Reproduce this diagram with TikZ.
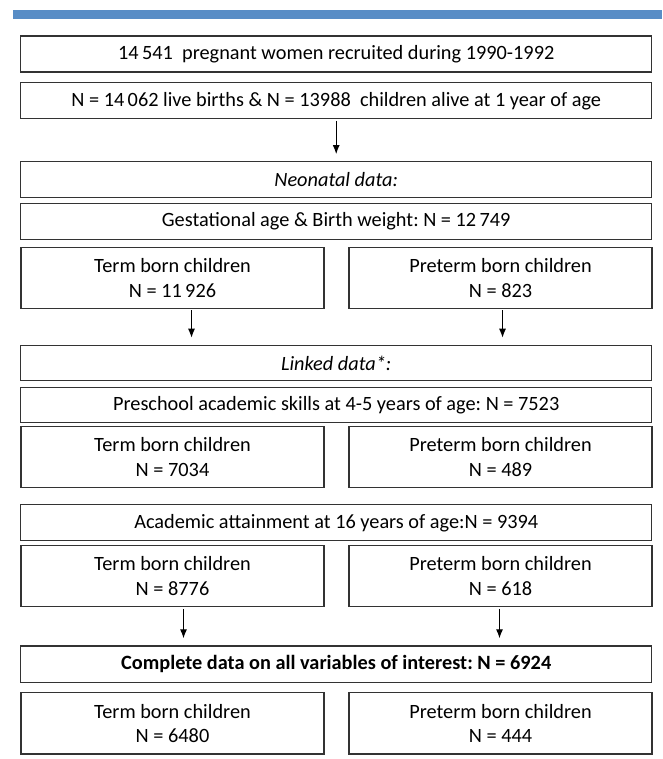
\documentclass[tikz,border=0pt]{standalone}
\usepackage{fontspec}
\setmainfont{Carlito}
\frenchspacing
\usetikzlibrary{arrows.meta}
\definecolor{barblue}{RGB}{88,141,198}
\begin{document}
\begin{tikzpicture}[x=1pt, y=-1pt,
    box/.style={draw=black!80, line width=1.2pt, inner sep=0pt, align=center,
      font=\fontsize{20.3}{24.5}\selectfont},
    wide/.style={box, minimum width=631pt, minimum height=36pt},
    half/.style={box, minimum width=303pt, minimum height=61pt},
    arr/.style={-{Latex[length=9pt,width=7pt]}, line width=1.1pt, shorten <=1.5pt, shorten >=7pt}]
  \useasboundingbox (0,0) rectangle (662,759);
  % top bar
  \fill[barblue] (13,10) rectangle (662,18.7);
  % recruitment
  \node[wide] (preg) at (336.2,54) {14\,541~ pregnant women recruited during 1990-1992};
  \node[wide] (births) at (336.2,100.7) {N = 14\,062 live births \& N = 13988~ children alive at 1 year of age};
  % neonatal data
  \node[wide] (neo) at (336.2,179.7) {\itshape Neonatal data:};
  \node[wide] (gest) at (336.2,221.3) {Gestational age \& Birth weight: N = 12\,749};
  \node[half] (terma) at (172.5,277.8) {Term born children\\N = 11\,926};
  \node[half] (prea) at (500.5,277.8) {Preterm born children\\N = 823};
  % linked data
  \node[wide, minimum height=35.4pt] (link) at (336.2,363) {\itshape Linked data*:};
  \node[wide, minimum height=35.4pt] (presch) at (336.2,405) {Preschool academic skills at 4-5 years of age: N = 7523};
  \node[half, minimum height=60.6pt] (termb) at (172.5,457) {Term born children\\N = 7034};
  \node[half, minimum height=60.6pt] (preb) at (500.5,457) {Preterm born children\\N = 489};
  \node[wide] (acad) at (336.2,522.7) {Academic attainment at 16 years of age:N = 9394};
  \node[half] (termc) at (172.5,576.2) {Term born children\\N = 8776};
  \node[half] (prec) at (500.5,576.2) {Preterm born children\\N = 618};
  % complete data
  \node[wide, minimum height=36.7pt] (compl) at (336.2,664.3) {\bfseries Complete data on all variables of interest: N = 6924};
  \node[half, minimum height=61.3pt] (termd) at (172.5,723.3) {Term born children\\N = 6480};
  \node[half, minimum height=61.3pt] (pred) at (500.5,723.3) {Preterm born children\\N = 444};
  % arrows
  \draw[arr] (births.south) -- (neo.north);
  \draw[arr] ([xshift=19pt]terma.south) -- ([xshift=19pt]terma.south |- link.north);
  \draw[arr] ([xshift=2pt]prea.south) -- ([xshift=2pt]prea.south |- link.north);
  \draw[arr] ([xshift=11pt]termc.south) -- ([xshift=11pt]termc.south |- compl.north);
  \draw[arr] ([xshift=-1pt]prec.south) -- ([xshift=-1pt]prec.south |- compl.north);
\end{tikzpicture}
\end{document}
